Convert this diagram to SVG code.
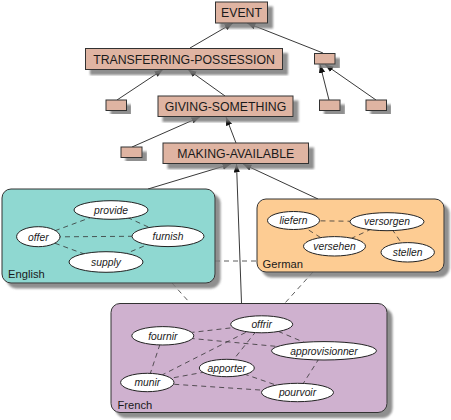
<svg xmlns="http://www.w3.org/2000/svg" width="451" height="420" viewBox="0 0 451 420">
<style>
.box{fill:#dfb4a2;stroke:#333;stroke-width:1;filter:url(#sh)}
.lbl{font-family:"Liberation Sans",Arial,sans-serif;font-size:12.3px;fill:#1a1a1a;text-anchor:middle}
.grp{stroke:#333;stroke-width:1;filter:url(#sh)}
.glbl{font-family:"Liberation Sans",Arial,sans-serif;font-size:11.2px;fill:#1a1a1a}
.el{fill:#fff;stroke:#222;stroke-width:1}
.et{font-family:"Liberation Sans",Arial,sans-serif;font-size:10.3px;font-style:italic;fill:#1a1a1a;text-anchor:middle}
.arr{stroke:#222;stroke-width:0.9;fill:none;marker-end:url(#ah)}
.dash{stroke:#333;stroke-width:0.8;stroke-dasharray:5,4;fill:none}
</style>
<defs>
<filter id="sh" x="-10%" y="-10%" width="130%" height="140%">
<feDropShadow dx="5" dy="5" stdDeviation="1" flood-color="#7a7a7a" flood-opacity="0.85"/>
</filter>
<marker id="ah" markerWidth="9" markerHeight="7" refX="8.5" refY="3.2" orient="auto" markerUnits="userSpaceOnUse">
<path d="M0,0 L8.5,3.2 L0,6.4 z" fill="#111"/>
</marker>
</defs>

<g id="connectors">
<line class="arr" x1="190" y1="48" x2="233" y2="23"/>
<line class="arr" x1="323" y1="53" x2="247" y2="23"/>
<line class="arr" x1="117" y1="100" x2="163" y2="69.5"/>
<line class="arr" x1="225" y1="96" x2="188" y2="69.5"/>
<line class="arr" x1="329" y1="100" x2="320" y2="64.5"/>
<line class="arr" x1="376" y1="100" x2="325" y2="64.5"/>
<line class="arr" x1="132" y1="147" x2="200" y2="117"/>
<line class="arr" x1="236" y1="143" x2="226" y2="117"/>
<line class="arr" x1="148" y1="189" x2="231" y2="164"/>
<line class="arr" x1="241.5" y1="303" x2="236.5" y2="164"/>
<line class="arr" x1="318" y1="199" x2="243" y2="164"/>
<line class="dash" x1="215" y1="261" x2="257" y2="261"/>
<line class="dash" x1="172" y1="283" x2="190" y2="303"/>
<line class="dash" x1="313" y1="272" x2="285" y2="303"/>
</g>

<g id="EVENT"><rect class="box" x="215.5" y="2" width="52" height="21"/><text class="lbl" x="241.5" y="17">EVENT</text></g>
<g id="TRANSFERRING-POSSESSION"><rect class="box" x="85.5" y="48.5" width="197" height="21"/><text class="lbl" x="184" y="64">TRANSFERRING-POSSESSION</text></g>
<g id="anon1"><rect class="box" x="314.5" y="53.5" width="20.5" height="10.5"/></g>
<g id="anon2"><rect class="box" x="106" y="100" width="20.5" height="10.5"/></g>
<g id="GIVING-SOMETHING"><rect class="box" x="158" y="96" width="135" height="20.5"/><text class="lbl" x="225.5" y="111">GIVING-SOMETHING</text></g>
<g id="anon3"><rect class="box" x="319.5" y="100" width="20.5" height="10.5"/></g>
<g id="anon4"><rect class="box" x="366" y="100" width="20.5" height="10.5"/></g>
<g id="anon5"><rect class="box" x="121" y="147" width="21" height="10.5"/></g>
<g id="MAKING-AVAILABLE"><rect class="box" x="163" y="143" width="145.5" height="20.5"/><text class="lbl" x="235.7" y="158">MAKING-AVAILABLE</text></g>

<g id="English">
<rect class="grp" x="2" y="189" width="213" height="94" rx="9" fill="#8fd8d1"/>
<text class="glbl" x="8" y="278">English</text>
<line class="dash" x1="38" y1="237" x2="111" y2="210"/>
<line class="dash" x1="38" y1="237" x2="168" y2="236"/>
<line class="dash" x1="38" y1="237" x2="106" y2="262"/>
<line class="dash" x1="111" y1="210" x2="168" y2="236"/>
<line class="dash" x1="106" y1="262" x2="168" y2="236"/>
<g id="provide"><ellipse class="el" cx="111" cy="210" rx="37" ry="9.3"/><text class="et" x="111" y="214">provide</text></g>
<g id="offer"><ellipse class="el" cx="38.3" cy="236.7" rx="21.7" ry="10"/><text class="et" x="38.3" y="240.5">offer</text></g>
<g id="furnish"><ellipse class="el" cx="168" cy="236.3" rx="36" ry="10.3"/><text class="et" x="168" y="240">furnish</text></g>
<g id="supply"><ellipse class="el" cx="106" cy="262" rx="37" ry="10.3"/><text class="et" x="106" y="265.5">supply</text></g>
</g>

<g id="German">
<rect class="grp" x="257" y="199" width="187" height="73" rx="9" fill="#fdcc93"/>
<text class="glbl" x="262.5" y="267.5">German</text>
<line class="dash" x1="293.5" y1="220.5" x2="387" y2="221.7"/>
<line class="dash" x1="293.5" y1="220.5" x2="334.5" y2="246.3"/>
<line class="dash" x1="334.5" y1="246.3" x2="387" y2="221.7"/>
<line class="dash" x1="387" y1="221.7" x2="407.7" y2="252.3"/>
<g id="liefern"><ellipse class="el" cx="293.5" cy="220.5" rx="26" ry="9"/><text class="et" x="293.5" y="224.2">liefern</text></g>
<g id="versorgen"><ellipse class="el" cx="387" cy="221.7" rx="37" ry="9"/><text class="et" x="387" y="225.4">versorgen</text></g>
<g id="versehen"><ellipse class="el" cx="334.5" cy="246.3" rx="31" ry="9.7"/><text class="et" x="334.5" y="250">versehen</text></g>
<g id="stellen"><ellipse class="el" cx="407.7" cy="252.3" rx="26.7" ry="9.7"/><text class="et" x="407.7" y="256">stellen</text></g>
</g>

<g id="French">
<rect class="grp" x="111" y="303.5" width="276" height="109" rx="9" fill="#cfb1cf"/>
<text class="glbl" x="117.5" y="408.5">French</text>
<line class="dash" x1="162.8" y1="335.8" x2="261.7" y2="324.3"/>
<line class="dash" x1="162.8" y1="335.8" x2="324" y2="350.8"/>
<line class="dash" x1="162.8" y1="335.8" x2="147.3" y2="382.5"/>
<line class="dash" x1="261.7" y1="324.3" x2="324" y2="350.8"/>
<line class="dash" x1="261.7" y1="324.3" x2="147.3" y2="382.5"/>
<line class="dash" x1="261.7" y1="324.3" x2="226.8" y2="368"/>
<line class="dash" x1="147.3" y1="382.5" x2="226.8" y2="368"/>
<line class="dash" x1="147.3" y1="382.5" x2="297.5" y2="392.5"/>
<line class="dash" x1="226.8" y1="368" x2="297.5" y2="392.5"/>
<line class="dash" x1="324" y1="350.8" x2="297.5" y2="392.5"/>
<g id="offrir"><ellipse class="el" cx="261.7" cy="324.3" rx="31" ry="8.5"/><text class="et" x="261.7" y="328">offrir</text></g>
<g id="fournir"><ellipse class="el" cx="162.8" cy="335.8" rx="31" ry="9.2"/><text class="et" x="162.8" y="339.5">fournir</text></g>
<g id="approvisionner"><ellipse class="el" cx="324" cy="350.8" rx="52.5" ry="9.2"/><text class="et" x="324" y="354.5">approvisionner</text></g>
<g id="apporter"><ellipse class="el" cx="226.8" cy="368" rx="27.5" ry="8.7"/><text class="et" x="226.8" y="371.7">apporter</text></g>
<g id="munir"><ellipse class="el" cx="147.3" cy="382.5" rx="26.7" ry="9.2"/><text class="et" x="147.3" y="386.2">munir</text></g>
<g id="pourvoir"><ellipse class="el" cx="297.5" cy="392.5" rx="36" ry="9.2"/><text class="et" x="297.5" y="396.2">pourvoir</text></g>
</g>
</svg>
